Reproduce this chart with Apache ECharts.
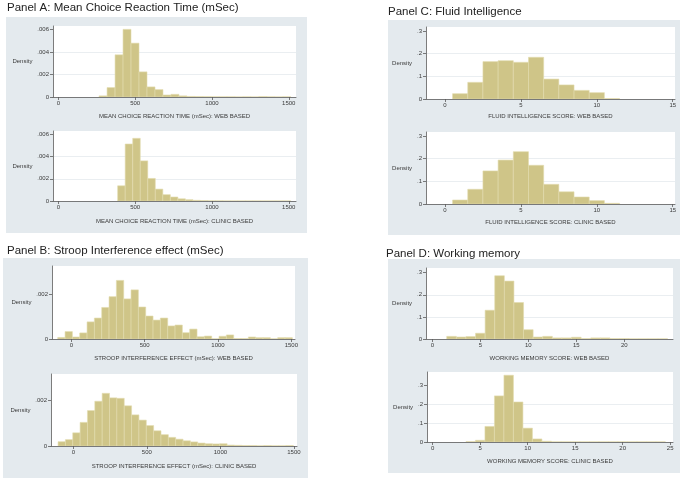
<!DOCTYPE html>
<html>
<head>
<meta charset="utf-8">
<script src="https://cdn.jsdelivr.net/npm/echarts@6/dist/echarts.min.js"></script>
<style>html,body{margin:0;padding:0;background:#fff}#c{width:689px;height:482px}</style>
</head>
<body>
<div id="c"></div>
<script>
// ---------- DATA ----------
const panelTitles = ["Panel A: Mean Choice Reaction Time (mSec)", "Panel B: Stroop Interference effect (mSec)", "Panel C: Fluid Intelligence", "Panel D: Working memory"];
const xTitles = [
  "MEAN CHOICE REACTION TIME (mSec): WEB BASED",
  "MEAN CHOICE REACTION TIME (mSec): CLINIC BASED",
  "STROOP INTERFERENCE EFFECT (mSec): WEB BASED",
  "STROOP INTERFERENCE EFFECT (mSec): CLINIC BASED",
  "FLUID INTELLIGENCE SCORE: WEB BASED",
  "FLUID INTELLIGENCE SCORE: CLINIC BASED",
  "WORKING MEMORY SCORE: WEB BASED",
  "WORKING MEMORY SCORE: CLINIC BASED"
];
const yTitle = "Density";

// bin start, bin width, densities
const aWebStart = 265, aWebWidth = 52;
const aWeb = [0.0001, 0.00084, 0.00376, 0.00603, 0.0048, 0.00224, 0.0009, 0.00066, 0.00018, 0.00024, 0.0001, 0.00005, 0.00004, 0.00003, 0.00002, 0.00002, 0.00002, 0.00001, 0.00002, 0.00001, 0.00004, 0.00002, 0.00001, 0.00002];
const aClinicStart = 386, aClinicWidth = 49;
const aClinic = [0.00137, 0.00513, 0.00564, 0.00361, 0.00203, 0.00107, 0.00057, 0.00036, 0.0002, 0.00012, 0.00006, 0.00004, 0.00002, 0.00002, 0.00001, 0.00001, 0.00001, 0.00001, 0.00001, 0.00001, 0.00001, 0.00001, 0.00001];
const bWebStart = -93, bWebWidth = 50;
const bWeb = [0.00007, 0.00033, 0.00009, 0.00027, 0.00076, 0.00093, 0.0014, 0.00188, 0.0026, 0.00178, 0.00218, 0.00142, 0.00102, 0.00084, 0.00093, 0.00058, 0.00062, 0.00028, 0.00044, 0.0001, 0.00013, 0.00001, 0.00012, 0.00018, 0.00002, 0.00002, 0.00009, 0.00006, 0.00006, 0.00001, 0.00006, 0.00006];
const bClinicStart = -104, bClinicWidth = 50;
const bClinic = [0.00019, 0.00028, 0.00058, 0.00104, 0.00156, 0.00197, 0.00232, 0.00212, 0.0021, 0.00177, 0.00137, 0.00114, 0.0009, 0.00067, 0.0005, 0.00038, 0.0003, 0.00023, 0.00018, 0.00013, 0.0001, 0.00009, 0.0001, 0.00004, 0.00003, 0.00002, 0.00002, 0.00001, 0.00002, 0.00001, 0.00001, 0.00002];
const cWebStart = 0.5, cWebWidth = 1;
const cWeb = [0.0235, 0.0735, 0.165, 0.169, 0.162, 0.184, 0.088, 0.062, 0.038, 0.028, 0.002];
const cClinicStart = 0.5, cClinicWidth = 1;
const cClinic = [0.0176, 0.065, 0.146, 0.194, 0.231, 0.171, 0.087, 0.054, 0.031, 0.015, 0.003];
const dWebStart = 1.5, dWebWidth = 1;
const dWeb = [0.012, 0.009, 0.011, 0.026, 0.13, 0.286, 0.262, 0.165, 0.042, 0.009, 0.012, 0.005, 0.005, 0.008, 0.002, 0.005, 0.005, 0.002, 0.002, 0.001, 0.001, 0.001, 0.001];
const dClinicStart = 3.5, dClinicWidth = 1;
const dClinic = [0.002, 0.009, 0.082, 0.243, 0.352, 0.211, 0.073, 0.016, 0.004, 0.001, 0.001, 0.001, 0.001, 0.001, 0.001, 0.001, 0.001, 0.001, 0.001, 0.001, 0.001];

// tick labels
const xTicksRT = [0, 500, 1000, 1500];
const xTicksC = [0, 5, 10, 15];
const xTicksDWeb = [0, 5, 10, 15, 20];
const xTicksDClinic = [0, 5, 10, 15, 20, 25];
const yTicksA = [0, 0.002, 0.004, 0.006];
const yTicksB = [0, 0.002];
const yTicksCD = [0, 0.1, 0.2, 0.3];

// ---------- LAYOUT ----------
const FONT = "Liberation Sans, Arial, sans-serif";
const BAR = '#cfc588', BAR_EDGE = '#e2dcae', AXIS = '#5a5a5a', TXT = '#3a3a3a', GRIDLINE = '#e4eaed', PANEL = '#e4eaee';

const subplots = [
  {data: aWeb, start: aWebStart, w: aWebWidth, xr: [-35, 1547], yr: [0, 0.00633], yi: 0.002, xt: xTicksRT, yt: yTicksA, g: {left: 53, top: 26, width: 243, height: 71}, ng: 15, xg: 16},
  {data: aClinic, start: aClinicStart, w: aClinicWidth, xr: [-35, 1547], yr: [0, 0.0063], yi: 0.002, xt: xTicksRT, yt: yTicksA, g: {left: 53, top: 131, width: 243, height: 70}, ng: 15, xg: 17},
  {data: bWeb, start: bWebStart, w: bWebWidth, xr: [-132, 1525], yr: [0, 0.00324], yi: 0.002, xt: xTicksRT, yt: yTicksB, g: {left: 52, top: 266, width: 243, height: 73}, ng: 19, xg: 16},
  {data: bClinic, start: bClinicStart, w: bClinicWidth, xr: [-152, 1521], yr: [0, 0.00317], yi: 0.002, xt: xTicksRT, yt: yTicksB, g: {left: 51, top: 374, width: 246, height: 72}, ng: 17, xg: 17},
  {data: cWeb, start: cWebStart, w: cWebWidth, xr: [-1.25, 15.15], yr: [0, 0.3176], yi: 0.1, xt: xTicksC, yt: yTicksCD, g: {left: 426, top: 27, width: 249, height: 72}, ng: 11, xg: 14},
  {data: cClinic, start: cClinicStart, w: cClinicWidth, xr: [-1.25, 15.15], yr: [0, 0.318], yi: 0.1, xt: xTicksC, yt: yTicksCD, g: {left: 426, top: 132, width: 249, height: 72}, ng: 11, xg: 15},
  {data: dWeb, start: dWebStart, w: dWebWidth, xr: [-0.66, 25.07], yr: [0, 0.321], yi: 0.1, xt: xTicksDWeb, yt: yTicksCD, g: {left: 426, top: 268, width: 247, height: 71}, ng: 7, xg: 16},
  {data: dClinic, start: dClinicStart, w: dClinicWidth, xr: [-0.6, 25.3], yr: [0, 0.369], yi: 0.1, xt: xTicksDClinic, yt: yTicksCD, g: {left: 427, top: 372, width: 246, height: 70}, ng: 8, xg: 16}
];

const fmtY = v => v === 0 ? '0' : String(+v.toFixed(4)).replace(/^0\./, '.');
const fmtX = v => String(+v.toFixed(4));

const grid = [], xAxis = [], yAxis = [], series = [];
subplots.forEach((s, i) => {
  grid.push(Object.assign({show: true, backgroundColor: '#ffffff', borderWidth: 0}, s.g));
  xAxis.push({
    type: 'value', gridIndex: i, min: s.xr[0], max: s.xr[1],
    name: xTitles[i], nameLocation: 'middle', nameGap: s.xg,
    nameTextStyle: {fontFamily: FONT, fontSize: 6, color: TXT},
    axisLine: {show: true, onZero: false, lineStyle: {color: AXIS, width: 0.8}},
    axisTick: {show: true, customValues: s.xt, length: 3, lineStyle: {color: AXIS, width: 0.8}},
    axisLabel: {show: true, customValues: s.xt, margin: 3.5, fontFamily: FONT, fontSize: 6, color: TXT, formatter: fmtX},
    splitLine: {show: false}
  });
  yAxis.push({
    type: 'value', gridIndex: i, min: s.yr[0], max: s.yr[1], interval: s.yi,
    name: yTitle, nameLocation: 'middle', nameRotate: 0, nameGap: s.ng,
    nameTextStyle: {fontFamily: FONT, fontSize: 6, color: TXT},
    axisLine: {show: true, onZero: false, lineStyle: {color: AXIS, width: 0.8}},
    axisTick: {show: true, customValues: s.yt, length: 3, lineStyle: {color: AXIS, width: 0.8}},
    axisLabel: {show: true, customValues: s.yt, margin: 4, fontFamily: FONT, fontSize: 6, color: TXT, formatter: fmtY},
    splitLine: {show: true, showMinLine: false, showMaxLine: false, lineStyle: {color: GRIDLINE, width: 0.8}}
  });
  series.push({
    type: 'custom', xAxisIndex: i, yAxisIndex: i, clip: true,
    data: s.data.map((d, k) => [s.start + k * s.w, s.start + (k + 1) * s.w, d]),
    encode: {x: [0, 1], y: 2},
    renderItem: (params, api) => {
      const p0 = api.coord([api.value(0), api.value(2)]);
      const p1 = api.coord([api.value(1), 0]);
      return {type: 'rect', shape: {x: p0[0], y: p0[1], width: p1[0] - p0[0], height: p1[1] - p0[1]},
        style: {fill: BAR, stroke: BAR_EDGE, lineWidth: 0.6}};
    }
  });
});

const panelBoxes = [
  {x: 6, y: 17, width: 301, height: 216},
  {x: 3, y: 258, width: 305, height: 220},
  {x: 388, y: 20, width: 292, height: 215},
  {x: 388, y: 259, width: 292, height: 214}
];
const titlePos = [{left: 7, top: 2}, {left: 7, top: 245}, {left: 388, top: 6}, {left: 386, top: 248}];

const chart = echarts.init(document.getElementById('c'), null, {renderer: 'canvas'});
chart.setOption({
  animation: false,
  backgroundColor: '#ffffff',
  title: panelTitles.map((t, i) => ({text: t, left: titlePos[i].left, top: titlePos[i].top, padding: 0,
    textStyle: {fontFamily: FONT, fontSize: 11.5, fontWeight: 'normal', color: '#222'}})),
  graphic: panelBoxes.map(b => ({type: 'rect', z: -10, silent: true, shape: b, style: {fill: PANEL}})),
  grid, xAxis, yAxis, series
});
</script>
</body>
</html>
